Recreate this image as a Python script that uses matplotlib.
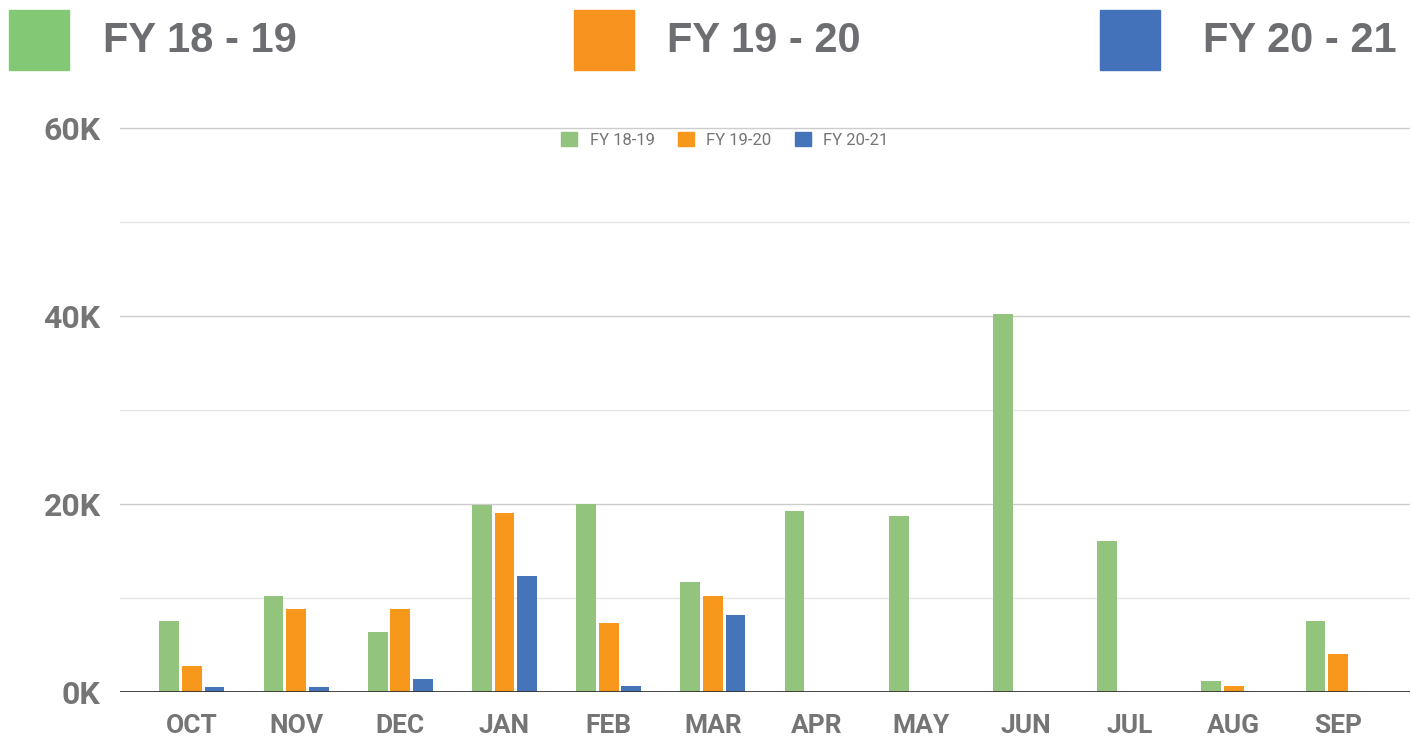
import numpy as np
import matplotlib.pyplot as plt
from matplotlib.patches import Rectangle, Patch

# Monthly totals per financial year (thousands)
months = ['OCT', 'NOV', 'DEC', 'JAN', 'FEB', 'MAR', 'APR', 'MAY', 'JUN', 'JUL', 'AUG', 'SEP']
fy_18_19 = [7.6, 10.2, 6.4, 19.9, 20.0, 11.7, 19.3, 18.7, 40.2, 16.1, 1.2, 7.6]
fy_19_20 = [2.8, 8.8, 8.8, 19.0, 7.3, 10.2, 0, 0, 0, 0, 0.6, 4.0]
fy_20_21 = [0.5, 0.5, 1.4, 12.3, 0.6, 8.2, 0, 0, 0, 0, 0, 0]

series_small = ['FY 18-19', 'FY 19-20', 'FY 20-21']
series_big = ['FY 18 - 19', 'FY 19 - 20', 'FY 20 - 21']
bar_colors = ['#93C47D', '#F7981D', '#4674B9']
key_colors = ['#83C874', '#F7931E', '#4472BA']
y_ticks = [0, 20, 40, 60]
y_labels = ['0K', '20K', '40K', '60K']

W, H = 1412, 739
fig = plt.figure(figsize=(W / 100, H / 100), dpi=100)

# big key across the top
key_x = [9, 574, 1100]
text_x = [103, 667, 1203]
for kx, tx, col, lab in zip(key_x, text_x, key_colors, series_big):
    fig.patches.append(Rectangle((kx / W, 1 - 70 / H), 60 / W, 60 / H,
                                 transform=fig.transFigure, color=col))
    fig.text(tx / W, 1 - 41 / H, lab, ha='left', va='center', fontsize=30,
             fontweight='bold', color='#6D6E72', family='Liberation Sans')

ax = fig.add_axes([120 / W, 1 - 692 / H, 1290 / W, (692 - 118.6) / H])

x = np.arange(len(months))
step = 0.216
width = 0.19
data = [fy_18_19, fy_19_20, fy_20_21]
for i, (vals, col) in enumerate(zip(data, bar_colors)):
    ax.bar(x + (i - 1) * step, vals, width=width, color=col, zorder=3)

ax.set_xlim(-0.69, 11.69)
ax.set_ylim(0, 61)

# grid lines
for v in [10, 30, 50]:
    ax.axhline(v, color='#E6E6E6', lw=1, zorder=1)
for v in [20, 40, 60]:
    ax.axhline(v, color='#CCCCCC', lw=1, zorder=1)
ax.axhline(0, color='#333333', lw=1.3, zorder=4)

for s in ax.spines.values():
    s.set_visible(False)
ax.set_yticks(y_ticks)
ax.set_yticklabels(y_labels, fontsize=23, fontweight='bold', color='#757575', family='Roboto')
ax.set_xticks(x)
ax.set_xticklabels(months, fontsize=19, fontweight='bold', color='#757575', family='Roboto')
ax.tick_params(axis='y', length=0, pad=14)
ax.tick_params(axis='x', length=0, pad=16)

handles = [Patch(facecolor=c, edgecolor=c) for c in bar_colors]
ax.legend(handles, series_small, loc='center', ncol=3, frameon=False,
          bbox_to_anchor=(725 / W, 1 - 140 / H), bbox_transform=fig.transFigure,
          prop={'family': 'Roboto', 'size': 12}, labelcolor='#757575',
          handlelength=0.95, handleheight=0.95, handletextpad=0.75, columnspacing=1.4)

fig.savefig('out.png', dpi=100)
